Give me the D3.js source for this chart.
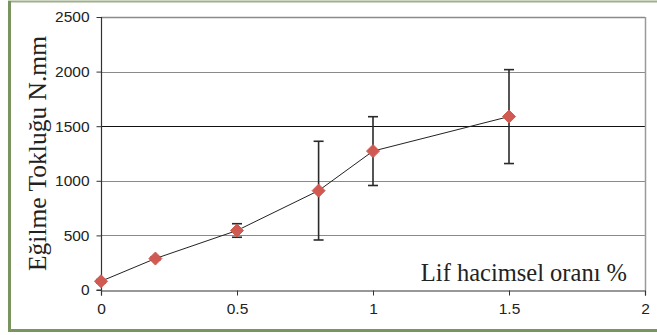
<!DOCTYPE html>
<html><head><meta charset="utf-8">
<script src="https://cdn.jsdelivr.net/npm/d3@7"></script>
<style>html,body{margin:0;padding:0;background:#fff;}svg{display:block;}</style>
</head><body>
<script>
const xValues = [0, 0.2, 0.5, 0.8, 1.0, 1.5];
const yValues = [80, 288, 545, 910, 1272, 1588];
const yErrors = [15, 15, 62, 452, 315, 430];
const xTicks = [0, 0.5, 1, 1.5, 2];
const yTicks = [0, 500, 1000, 1500, 2000, 2500];
const yLabel = "Eğilme Tokluğu N.mm";
const xLabel = "Lif hacimsel oranı %";

const W = 657, H = 335;
const svg = d3.select("body").append("svg").attr("width", W).attr("height", H);
const L = 101, R = 645, T = 17, B = 290;
const x = d3.scaleLinear().domain([0, 2]).range([L, R]);
const y = d3.scaleLinear().domain([0, 2500]).range([B, T]);

// outer frame
svg.append("line").attr("x1", 8).attr("x2", W).attr("y1", 1.5).attr("y2", 1.5).attr("stroke", "#9db088").attr("stroke-width", 2);
svg.append("line").attr("x1", 9.5).attr("x2", 9.5).attr("y1", 1).attr("y2", 332).attr("stroke", "#7a9460").attr("stroke-width", 3);
svg.append("line").attr("x1", 8).attr("x2", W).attr("y1", 330.5).attr("y2", 330.5).attr("stroke", "#7a9460").attr("stroke-width", 3);

// gridlines
svg.append("g").selectAll("line").data(yTicks.filter(d => d > 0)).join("line")
  .attr("x1", L).attr("x2", R).attr("y1", d => Math.round(y(d)) + 0.5).attr("y2", d => Math.round(y(d)) + 0.5)
  .attr("stroke", d => d === 1500 ? "#111" : "#8a8a8a").attr("stroke-width", d => d === 2500 ? 1.5 : 1);
// right border
svg.append("line").attr("x1", R + 0.5).attr("x2", R + 0.5).attr("y1", T).attr("y2", B).attr("stroke", "#9a9a9a").attr("stroke-width", 1.5);

// axes
const yAxis = svg.append("g").attr("transform", `translate(${L + 0.5},0)`)
  .call(d3.axisLeft(y).tickValues(yTicks).tickSize(5).tickPadding(7).tickFormat(d3.format("d")));
const xAxis = svg.append("g").attr("transform", `translate(0,${B + 0.5})`)
  .call(d3.axisBottom(x).tickValues(xTicks).tickSize(5).tickPadding(7).tickFormat(d => String(d)));
[yAxis, xAxis].forEach(g => {
  g.select(".domain").attr("stroke", "#333").attr("stroke-width", 1.2);
  g.selectAll(".tick line").attr("stroke", "#333");
  g.selectAll("text").attr("font-family", "Liberation Sans, Arial, sans-serif").attr("font-size", 15.5).attr("fill", "#222");
});
yAxis.select(".domain").attr("d", `M-5,${B}H0V${T}`);

// line
svg.append("path").datum(xValues.map((v, i) => [v, yValues[i]]))
  .attr("fill", "none").attr("stroke", "#222").attr("stroke-width", 1)
  .attr("d", d3.line().x(d => x(d[0])).y(d => y(d[1])));

// error bars
const eb = svg.append("g").attr("stroke", "#2a2a2a").attr("stroke-width", 1.6);
xValues.forEach((v, i) => {
  const cx = x(v), y1 = y(yValues[i] + yErrors[i]), y2 = y(yValues[i] - yErrors[i]);
  eb.append("line").attr("x1", cx).attr("x2", cx).attr("y1", y1).attr("y2", y2);
  eb.append("line").attr("x1", cx - 5).attr("x2", cx + 5).attr("y1", y1).attr("y2", y1);
  eb.append("line").attr("x1", cx - 5).attr("x2", cx + 5).attr("y1", y2).attr("y2", y2);
});

// markers
svg.append("g").selectAll("path").data(xValues).join("path")
  .attr("transform", (d, i) => `translate(${x(d)},${y(yValues[i])})`)
  .attr("d", "M0,-6.5L6.5,0L0,6.5L-6.5,0Z")
  .attr("fill", "#d05a52").attr("stroke", "#d05a52").attr("stroke-width", 1).attr("stroke-linejoin", "round");

// labels
svg.append("text").attr("transform", `translate(46,${(T + B) / 2}) rotate(-90)`)
  .attr("text-anchor", "middle").attr("font-family", "Liberation Serif, Times New Roman, serif")
  .attr("font-size", 25.5).attr("fill", "#222").text(yLabel);
svg.append("text").attr("x", 627).attr("y", 281).attr("text-anchor", "end")
  .attr("font-family", "Liberation Serif, Times New Roman, serif")
  .attr("font-size", 24.5).attr("fill", "#222").text(xLabel);
</script>
</body></html>
